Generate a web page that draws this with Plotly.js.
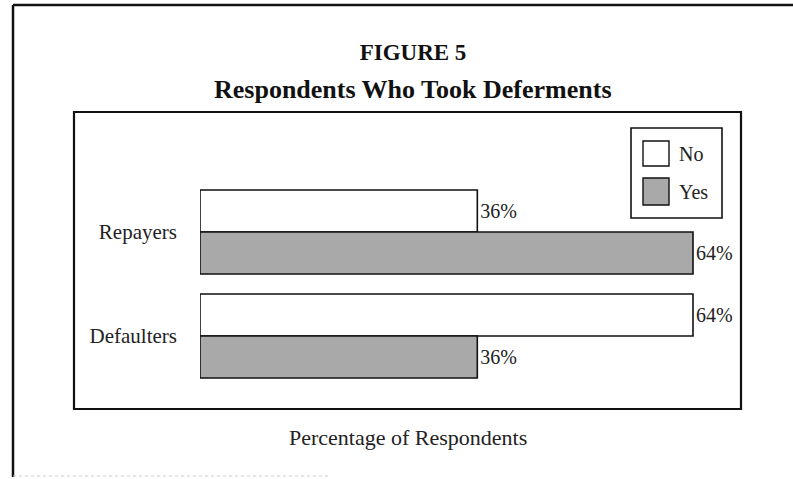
<!DOCTYPE html>
<html>
<head>
<meta charset="utf-8">
<script src="https://cdn.plot.ly/plotly-3.0.1.min.js"></script>
<style>html,body{margin:0;padding:0;background:#fff;}#chart{width:793px;height:479px;}</style>
</head>
<body>
<div id="chart"></div>
<script>
// ---- data ----
const categories = ["Repayers", "Defaulters"];
const seriesNames = ["No", "Yes"];
const noValues = [36, 64];
const yesValues = [64, 36];
const valueLabels = { No: ["36%", "64%"], Yes: ["64%", "36%"] };
const titleLine1 = "FIGURE 5";
const titleLine2 = "Respondents Who Took Deferments";
const xTitle = "Percentage of Respondents";

// ---- layout geometry (pixels) ----
const W = 793, H = 479;
const M = { l: 200, r: 52, t: 112, b: 70 };
const plotW = W - M.l - M.r, plotH = H - M.t - M.b;
const px = x => (x - M.l) / plotW;       // pixel x -> paper x
const py = y => (H - M.b - y) / plotH;   // pixel y -> paper y

const FONT = "Liberation Serif, Times New Roman, serif";
const barW = 0.404;
const gray = "#a9a9a9";

const traces = [
  {
    type: "bar", orientation: "h", name: seriesNames[0],
    y: categories, x: noValues, text: valueLabels.No,
    textposition: "outside", cliponaxis: false,
    textfont: { family: FONT, size: 20, color: "#222" },
    width: barW, offset: 0,
    marker: { color: "#ffffff", line: { color: "#111", width: 1.6 } },
    hoverinfo: "none"
  },
  {
    type: "bar", orientation: "h", name: seriesNames[1],
    y: categories, x: yesValues, text: valueLabels.Yes,
    textposition: "outside", cliponaxis: false,
    textfont: { family: FONT, size: 20, color: "#222" },
    width: barW, offset: -barW,
    marker: { color: gray, line: { color: "#111", width: 1.6 } },
    hoverinfo: "none"
  }
];

const line = (x0, y0, x1, y1, w, c, dash) => ({
  type: "line", xref: "paper", yref: "paper",
  x0: px(x0), y0: py(y0), x1: px(x1), y1: py(y1),
  line: { color: c || "#111", width: w || 2, dash: dash || "solid" }
});
const rect = (x0, y0, x1, y1, fill, w) => ({
  type: "rect", xref: "paper", yref: "paper",
  x0: px(x0), y0: py(y0), x1: px(x1), y1: py(y1),
  fillcolor: fill, line: { color: "#111", width: w || 1.6 }
});

const shapes = [
  // outer page frame
  line(13, 5, 793, 5, 2.5),
  line(13, 5, 13, 477, 2.5),
  line(13, 476, 330, 476, 1, "#ccc", "dot"),
  // inner chart box
  { type: "rect", xref: "paper", yref: "paper", x0: px(74), y0: 0, x1: 1, y1: 1,
    line: { color: "#111", width: 2.2 }, fillcolor: "rgba(0,0,0,0)", layer: "below" },
  // legend box & swatches
  rect(631, 128, 722, 218, "#ffffff", 1.6),
  rect(643, 141, 669, 166, "#ffffff", 1.4),
  rect(643, 178, 669, 205, gray, 1.4)
];

const annotations = [
  { text: "<b>" + titleLine2 + "</b>", xref: "paper", yref: "paper",
    x: px(413), y: py(90), xanchor: "center", yanchor: "middle", showarrow: false,
    font: { family: FONT, size: 26, color: "#111" } },
  { text: xTitle, xref: "paper", yref: "paper",
    x: px(408), y: py(437), xanchor: "center", yanchor: "middle", showarrow: false,
    font: { family: FONT, size: 22, color: "#222" } },
  { text: seriesNames[0], xref: "paper", yref: "paper",
    x: px(677), y: py(154), xanchor: "left", yanchor: "middle", showarrow: false,
    font: { family: FONT, size: 20, color: "#222" } },
  { text: seriesNames[1], xref: "paper", yref: "paper",
    x: px(677), y: py(192), xanchor: "left", yanchor: "middle", showarrow: false,
    font: { family: FONT, size: 20, color: "#222" } }
];

const layout = {
  width: W, height: H,
  margin: M,
  paper_bgcolor: "#fff", plot_bgcolor: "rgba(0,0,0,0)",
  showlegend: false,
  barmode: "overlay",
  title: {
    text: "<b>" + titleLine1 + "</b>",
    xref: "container", yref: "container",
    x: 413 / W, y: 1 - 52 / H, xanchor: "center", yanchor: "middle",
    font: { family: FONT, size: 23, color: "#111" }
  },
  xaxis: {
    range: [0, plotW / (493 / 64)],
    showgrid: false, zeroline: false, showline: false,
    showticklabels: false, ticks: ""
  },
  yaxis: {
    type: "category",
    categoryorder: "array", categoryarray: ["Defaulters", "Repayers"],
    range: [-0.702, 2.154],
    showgrid: false, zeroline: false, showline: false, ticks: "",
    ticklabelstandoff: 22,
    tickfont: { family: FONT, size: 21, color: "#222" }
  },
  shapes: shapes,
  annotations: annotations
};

Plotly.newPlot("chart", traces, layout, { staticPlot: true, displayModeBar: false });
</script>
</body>
</html>
